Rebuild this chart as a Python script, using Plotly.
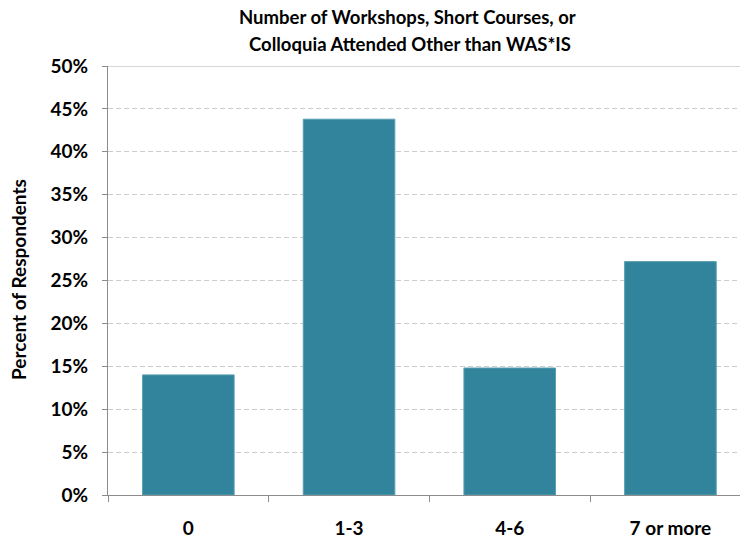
import plotly.graph_objects as go

categories = ["0", "1-3", "4-6", "7 or more"]
values = [14.0, 43.8, 14.8, 27.2]
y_ticks = [0, 5, 10, 15, 20, 25, 30, 35, 40, 45, 50]
y_tick_labels = [f"{v}%" for v in y_ticks]
title_lines = ["Number of Workshops, Short Courses, or", "Colloquia Attended Other than WAS*IS"]

FONT = "Lato, Noto Sans, sans-serif"
W, H = 740, 539
ML, MR, MT, MB = 108, 0, 66, 44
PW, PH = W - ML - MR, H - MT - MB

def px_to_paper(xp, yp):
    return (xp - ML) / PW, (H - MB - yp) / PH

fig = go.Figure()
fig.add_trace(go.Bar(
    x=categories, y=values,
    marker=dict(color="#31849B", line=dict(color="#5a9fb3", width=1)),
    width=0.57,
))

fig.update_layout(
    width=W, height=H,
    margin=dict(l=ML, r=MR, t=MT, b=MB),
    paper_bgcolor="white", plot_bgcolor="white",
    showlegend=False,
    font=dict(family=FONT, color="black"),
)

for line, (cx, cy) in zip(title_lines, [(407, 17), (410, 44)]):
    xp, yp = px_to_paper(cx, cy)
    fig.add_annotation(text=f"<b>{line}</b>", xref="paper", yref="paper",
                       x=xp, y=yp, xanchor="center", yanchor="middle",
                       showarrow=False, font=dict(size=18.5, family=FONT, color="black"))

fig.update_xaxes(
    type="category", range=[-0.5, 3.433],
    showline=True, linecolor="#8c8c8c", linewidth=1,
    ticks="outside", tickson="boundaries", ticklen=6, tickcolor="#8c8c8c",
    showgrid=False,
    tickfont=dict(size=19, family=FONT),
    ticklabelstandoff=16,
    tickprefix="<b>", ticksuffix="</b>",
)
fig.update_yaxes(
    range=[0, 50],
    tickvals=y_ticks, ticktext=[f"<b>{t}</b>" for t in y_tick_labels],
    showline=True, linecolor="#8c8c8c", linewidth=1,
    ticks="outside", ticklen=5, tickcolor="#8c8c8c",
    showgrid=True, gridcolor="#cccccc", griddash="5px,3px", gridwidth=1,
    zeroline=False,
    tickfont=dict(size=19, family=FONT),
    ticklabelstandoff=10,
)

xp, yp = px_to_paper(18, 280)
fig.add_annotation(text="<b>Percent of Respondents</b>", xref="paper", yref="paper",
                   x=xp, y=yp, xanchor="center", yanchor="middle", textangle=-90,
                   showarrow=False, font=dict(size=19, family=FONT, color="black"))

fig.add_shape(type="line", xref="paper", yref="y", x0=0, x1=1, y0=50, y1=50,
              line=dict(color="#b0b0b0", width=1))

fig.write_html("out.html")
